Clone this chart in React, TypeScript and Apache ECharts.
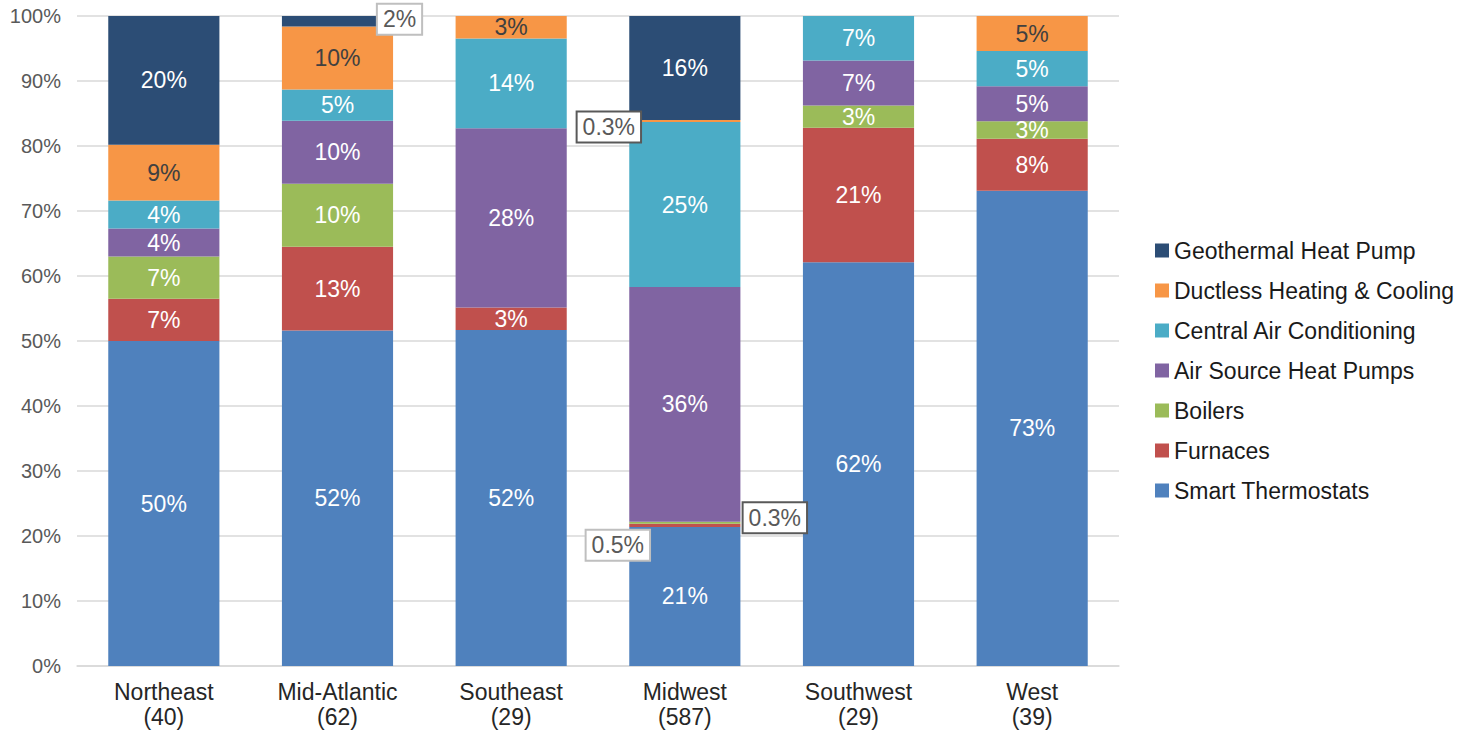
import React, { useEffect, useRef } from "react";
import * as echarts from "echarts";

const regions = ["Northeast", "Mid-Atlantic", "Southeast", "Midwest", "Southwest", "West"];
const counts = [40, 62, 29, 587, 29, 39];

const seriesNames = [
  "Smart Thermostats",
  "Furnaces",
  "Boilers",
  "Air Source Heat Pumps",
  "Central Air Conditioning",
  "Ductless Heating & Cooling",
  "Geothermal Heat Pump",
];

const smartThermostats = [50, 51.6, 51.7, 21.4, 62.1, 73.1];
const furnaces = [6.5, 12.9, 3.45, 0.5, 20.7, 8.0];
const boilers = [6.5, 9.7, 0, 0.3, 3.45, 2.7];
const airSourceHeatPumps = [4.3, 9.7, 27.6, 36.1, 6.9, 5.4];
const centralAirConditioning = [4.3, 4.8, 13.8, 25.4, 6.9, 5.4];
const ductless = [8.6, 9.7, 3.45, 0.3, 0, 5.4];
const geothermal = [19.8, 1.6, 0, 16.0, 0, 0];

const yTicks = [0, 10, 20, 30, 40, 50, 60, 70, 80, 90, 100];

const seriesValues = [
  smartThermostats,
  furnaces,
  boilers,
  airSourceHeatPumps,
  centralAirConditioning,
  ductless,
  geothermal,
];

const colors = ["#4F81BD", "#C0504D", "#9BBB59", "#8064A2", "#4BACC6", "#F79646", "#2C4D75"];

// callout styling: key = "seriesIndex-dataIndex"
const callouts: Record<string, { offset: number[]; border: string }> = {
  "6-1": { offset: [62, -2], border: "#bfbfbf" },
  "5-3": { offset: [-76, 6], border: "#595959" },
  "1-3": { offset: [-67, 20], border: "#bfbfbf" },
  "2-3": { offset: [90, -5], border: "#595959" },
};

const FONT = "'Liberation Sans', Arial, sans-serif";

function fmt(v: number) {
  if (!v) return "";
  if (v < 1) return v.toFixed(1) + "%";
  return Math.round(v) + "%";
}

export default function App() {
  const ref = useRef<HTMLDivElement>(null);
  useEffect(() => {
    if (!ref.current) return;
    const chart = echarts.init(ref.current, undefined, { renderer: "svg" });
    const series = seriesValues.map((vals, si) => ({
      name: seriesNames[si],
      type: "bar",
      stack: "total",
      barWidth: "64%",
      itemStyle: { color: colors[si] },
      label: {
        show: true,
        position: "inside",
        color: si === 5 ? "#404040" : "#ffffff",
        fontSize: 23,
        fontFamily: FONT,
        formatter: (p: any) => fmt(p.value),
      },
      data: vals.map((v, di) => {
        const c = callouts[`${si}-${di}`];
        if (!c) return { value: v };
        return {
          value: v,
          label: {
            show: true,
            position: "inside",
            offset: c.offset,
            color: "#595959",
            backgroundColor: "#ffffff",
            borderColor: c.border,
            borderWidth: 2,
            padding: [4, 5, 2, 5],
            fontSize: 23,
            fontFamily: FONT,
          },
        };
      }),
    }));
    chart.setOption({
      animation: false,
      grid: { left: 77, right: 355, top: 16, bottom: 70 },
      legend: {
        orient: "vertical",
        left: 1150,
        top: 234,
        itemWidth: 14,
        itemHeight: 14,
        itemGap: 17,
        icon: "rect",
        data: [...seriesNames].reverse(),
        textStyle: { fontSize: 23, color: "#1a1a1a", fontFamily: FONT, lineHeight: 22 },
      },
      xAxis: {
        type: "category",
        data: regions.map((r, i) => `${r}\n(${counts[i]})`),
        axisTick: { show: false },
        axisLine: { lineStyle: { color: "#d9d9d9", width: 1.5 } },
        axisLabel: { fontSize: 23, color: "#262626", fontFamily: FONT, lineHeight: 25, margin: 13 },
      },
      yAxis: {
        type: "value",
        min: yTicks[0],
        max: yTicks[yTicks.length - 1],
        interval: 10,
        axisLine: { show: false },
        axisTick: { show: false },
        splitLine: { lineStyle: { color: "#d9d9d9", width: 1.5 } },
        axisLabel: { formatter: "{value}%", fontSize: 20, color: "#595959", fontFamily: FONT, margin: 16 },
      },
      series,
    });
    return () => chart.dispose();
  }, []);
  return (
    <div
      ref={ref}
      style={{ position: "absolute", left: 0, top: 0, width: 1474, height: 736 }}
    />
  );
}
